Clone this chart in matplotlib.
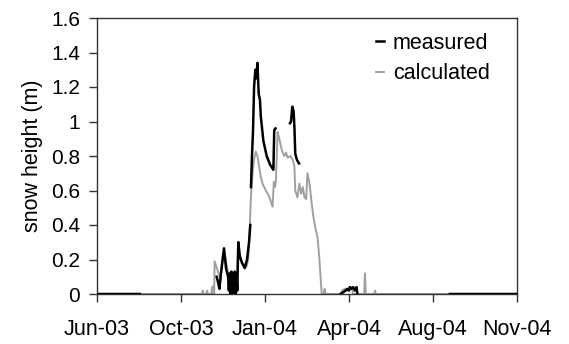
import numpy as np
import matplotlib
matplotlib.use("Agg")
import matplotlib.pyplot as plt

plt.rcParams['font.family'] = ['Liberation Sans', 'DejaVu Sans']

# x axis: days since tick "Jun-03" (ticks every 100 days)
tick_days = [0, 100, 200, 300, 400, 500]
tick_labels = ["Jun-03", "Oct-03", "Jan-04", "Apr-04", "Aug-04", "Nov-04"]
y_ticks = [0, 0.2, 0.4, 0.6, 0.8, 1, 1.2, 1.4, 1.6]
y_tick_labels = ["0", "0.2", "0.4", "0.6", "0.8", "1", "1.2", "1.4", "1.6"]

nan = np.nan
measured_days = [0, 51, nan,
                 142.5, 144, 145.8, 147.6, 151.2, 153.6, 156, 157, 158, 159, 160, 161, 162,
                 163, 164, 165, 166, 167, 168.2, 170, 172.6, 176, 178.6, 181, 182.5, nan,
                 183.3, 184.5, 185.7, 187, 188.5, 189.7, 191, 192.5, 194, 195, 198, 202,
                 206, 210, 211, 212.5, nan,
                 229.8, 231, 232.5, 234, 235, 236, 238, 240.5, nan,
                 290, 293, 296, 298, 300, 301, 303, 305, 307, 309, 310, nan,
                 420, 500]
measured_vals = [0, 0, nan,
                 0.10, 0.07, 0.03, 0.12, 0.265, 0.15, 0.10, 0.02, 0.12, 0.0, 0.13, 0.01, 0.10,
                 0.0, 0.13, 0.0, 0.12, 0.02, 0.30, 0.22, 0.18, 0.15, 0.20, 0.30, 0.40, nan,
                 0.62, 0.80, 0.94, 1.20, 1.30, 1.25, 1.34, 1.16, 1.125, 1.03, 0.89, 0.80,
                 0.75, 0.72, 0.95, 0.96, nan,
                 0.99, 1.00, 1.086, 1.06, 0.97, 0.815, 0.777, 0.757, nan,
                 0.0, 0.01, 0.02, 0.03, 0.02, 0.04, 0.03, 0.04, 0.02, 0.04, 0.0, nan,
                 0, 0]

calc_days = [0, 125, 126, 127, 130, 131, 132, 136, 137, 138, 139, 139.5,
             140, 144, 147, 150, 152.5, 156, 159, 163, 166, 168.3, 170, 172, 175, 178, 180,
             181.8, 183, 184, 185.5, 187, 189, 191, 193, 195, 197, 201, 205, 209, 210.5,
             212, 213, 215, 217, 219, 221, 223, 225, 227, 230, 233, 235, 236, 238.5, 241,
             243, 245, 247, 249, 250.5, 253, 255, 257.5, 260, 262.5, 264.5, 267.5,
             270, 271, 272, 290, 292, 295, 298, 300, 303, 305, 318, 319, 320, 330, 331, 332, 500]
calc_vals = [0, 0, 0.02, 0, 0, 0.02, 0, 0, 0.04, 0, 0.05, 0,
             0.19, 0.13, 0.09, 0.24, 0.22, 0.12, 0.08, 0.02, 0.0, 0.30, 0.22, 0.19, 0.17, 0.16, 0.20,
             0.37, 0.54, 0.62, 0.72, 0.78, 0.825, 0.80, 0.74, 0.68, 0.64, 0.60, 0.564, 0.506, 0.65,
             0.62, 0.66, 0.94, 0.90, 0.854, 0.82, 0.80, 0.82, 0.79, 0.80, 0.777, 0.74, 0.60, 0.56, 0.64,
             0.58, 0.62, 0.56, 0.55, 0.70, 0.64, 0.55, 0.45, 0.38, 0.33, 0.22, 0.0,
             0, 0.03, 0, 0, 0.02, 0.03, 0.02, 0.03, 0.04, 0, 0, 0.12, 0, 0, 0.02, 0, 0]

fig = plt.figure(figsize=(5.69, 3.44), dpi=100)
ax = fig.add_axes([97/569, 1 - 294/344, 420/569, 276/344])

ln_m, = ax.plot(measured_days, measured_vals, color='black', lw=1.8, zorder=3, label='measured')
ln_c, = ax.plot(calc_days, calc_vals, color='#a0a0a0', lw=1.4, zorder=2, label='calculated')

ax.set_xlim(0, 500)
ax.set_ylim(0, 1.6)
ax.set_xticks(tick_days)
ax.set_xticklabels(tick_labels)
ax.set_yticks(y_ticks)
ax.set_yticklabels(y_tick_labels)
ax.tick_params(axis='both', direction='out', length=6, width=1, color='#333333')
ax.tick_params(axis='x', pad=12, labelsize=15.5)
ax.tick_params(axis='y', pad=6, labelsize=15)
for s in ax.spines.values():
    s.set_color('#333333')
    s.set_linewidth(1)

ax.set_ylabel('snow height (m)', fontsize=15.5, labelpad=6)

ax.legend(handles=[ln_m, ln_c], loc='upper right', bbox_to_anchor=(0.935, 0.947),
          frameon=False, fontsize=15.5, handlelength=0.4, handletextpad=0.4,
          borderaxespad=0, labelspacing=0.45, borderpad=0)

fig.savefig('out.png', dpi=100)
